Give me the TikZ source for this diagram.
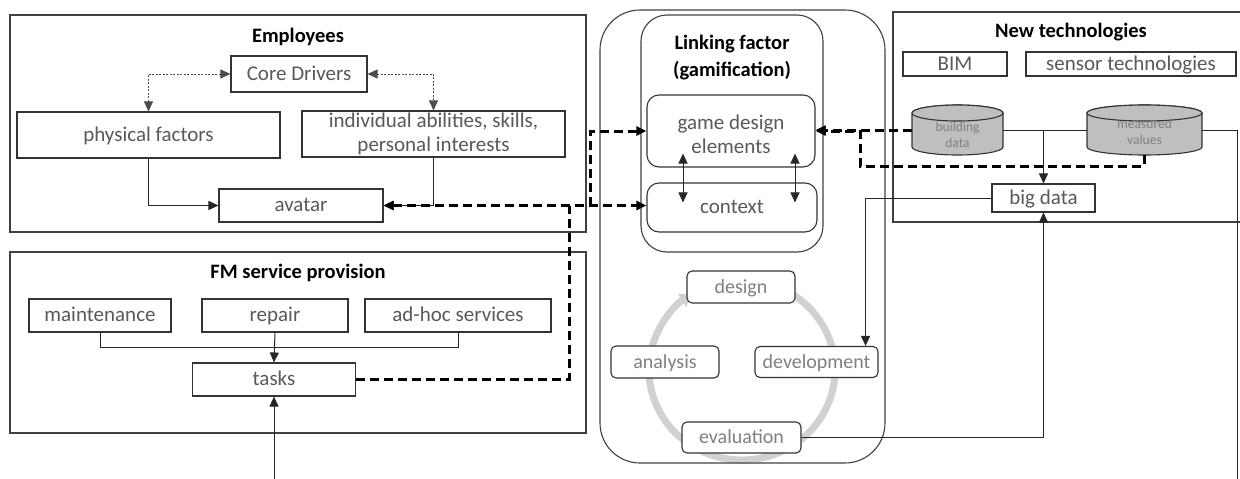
\documentclass[tikz,border=0pt]{standalone}
\usepackage{fontspec}
\setmainfont{Carlito}
\usetikzlibrary{arrows.meta,calc}

\begin{document}
\begin{tikzpicture}[x=1pt,y=-1pt,>={Triangle[length=10pt,width=9pt]},
    every node/.style={font=\fontsize{21}{24}\selectfont},
    box/.style={draw=black!80,line width=1.1pt,fill=white,text=black!65,align=center,inner sep=0pt},
    oneline/.style={text height=14pt,text depth=2pt},
    phase/.style={box,oneline,rounded corners=5pt,text=black!50,font=\fontsize{20}{24}\selectfont},
    cont/.style={draw=black!75,line width=1.1pt},
    title/.style={font=\fontsize{20.5}{27}\selectfont\bfseries,align=center},
    db/.style={inner sep=0pt,text=black!50,font=\fontsize{13.5}{16}\selectfont},
    dbshape/.style={fill=black!25,draw=black!80,line width=1.1pt},
    link/.style={line width=1pt,black!85},
    hint/.style={line width=0.8pt,black!70,dash pattern=on 2pt off 1.5pt},
    game/.style={line width=3pt,dash pattern=on 9pt off 5pt,black}]
\useasboundingbox (0,0) rectangle (1240,479);

% gamification cycle
\draw[line width=7pt,black!18,-{Triangle[length=11pt,width=15pt]}] (742,370) ++(-70:93 and 90) arc[start angle=-70,end angle=237,x radius=93,y radius=90];

% frames
\draw[cont] (10,15) rectangle (586,232);
\draw[cont] (10,252) rectangle (586,433);
\draw[cont,rounded corners=40pt] (600,10) rectangle (885,463);
\draw[cont,rounded corners=26pt] (641,15) rectangle (823,252);
\draw[cont] (1240,12) -- (893,12) -- (893,222) -- (1240,222);

\node[title] (emptitle) at (298,37) {Employees};
\node[title] (fmtitle) at (298,273) {FM service provision};
\node[title] (linktitle) at (732,58) {Linking factor\\(gamification)};
\node[title] (techtitle) at (1071,32) {New technologies};

% employees
\node[box,oneline,minimum width=136,minimum height=36] (core) at (299,74) {Core Drivers};
\node[box,oneline,minimum width=263,minimum height=46] (phys) at (148.5,135) {physical factors};
\node[box,minimum width=263,minimum height=46] (indiv) at (433.5,134) {individual abilities, skills,\\personal interests};
\node[box,oneline,minimum width=164,minimum height=33] (avatar) at (301,205.5) {avatar};

% FM service provision
\node[box,oneline,minimum width=142,minimum height=33] (maint) at (100,315.5) {maintenance};
\node[box,oneline,minimum width=146,minimum height=33] (repair) at (275,315.5) {repair};
\node[box,oneline,minimum width=186,minimum height=33] (adhoc) at (458,315.5) {ad-hoc services};
\node[box,oneline,minimum width=163,minimum height=33] (tasks) at (274,379.5) {tasks};

% linking factor
\node[box,rounded corners=12pt,minimum width=168,minimum height=72,text height=45pt] (gde) at (731,131) {game design\\elements};
\node[box,oneline,rounded corners=12pt,minimum width=170,minimum height=49] (context) at (732,207.5) {context};
\node[phase,minimum width=108,minimum height=32] (design) at (741,287) {design};
\node[phase,minimum width=108,minimum height=32] (analysis) at (665,362) {analysis};
\node[phase,minimum width=123,minimum height=31] (devel) at (816.5,362) {development};
\node[phase,minimum width=119,minimum height=31] (evalu) at (741.5,437.5) {evaluation};

% new technologies
\node[box,oneline,minimum width=104,minimum height=24] (bim) at (955,64) {BIM};
\node[box,oneline,minimum width=210,minimum height=24] (sensor) at (1131,64) {sensor technologies};
\filldraw[dbshape] (912,113) -- (912,147) arc[start angle=180,end angle=0,x radius=45.5,y radius=8] -- (1003,113) arc[start angle=0,end angle=-180,x radius=45.5,y radius=8] -- cycle;
\draw[dbshape] (957.5,113) ellipse[x radius=45.5,y radius=8];
\filldraw[dbshape] (1087,113) -- (1087,147) arc[start angle=180,end angle=0,x radius=57.5,y radius=8] -- (1202,113) arc[start angle=0,end angle=-180,x radius=57.5,y radius=8] -- cycle;
\draw[dbshape] (1144.5,113) ellipse[x radius=57.5,y radius=8];
\node[db,minimum width=91,minimum height=50] (bdata) at (957.5,130) {\raisebox{-6pt}[\height][\depth]{\begin{tabular}{@{}c@{}}building\\data\end{tabular}}};
\node[db,minimum width=115,minimum height=50] (mvals) at (1144.5,130) {\raisebox{-3pt}[\height][\depth]{\begin{tabular}{@{}c@{}}measured\\values\end{tabular}}};
\node[box,oneline,minimum width=103,minimum height=28] (bigdata) at (1043.5,198) {big data};

\coordinate (fmin) at (274,479);
\coordinate (techout) at (1237,479);
\coordinate (jup) at (590,205.5);
\coordinate (jdown) at (569,205.5);
\coordinate (jtech) at (860,166);

\draw[hint,<->] (core.west) -| (phys.north);
\draw[hint,<->] (core.east) -| (indiv.north);
\draw[link,->] (phys.south) |- (avatar.west);
\draw[link,->] (indiv.south) |- (avatar.east);
\draw[link] (maint.south) -- ++(0,15) -| (adhoc.south);
\draw[link,->] (repair.south) -- (tasks.north);
\draw[link,->] (fmin) -- (tasks.south);
\draw[link,<->] ($(gde.south)+(-48,-14)$) -- ($(context.north)+(-49,20)$);
\draw[link,<->] ($(gde.south)+(64,-14)$) -- ($(context.north)+(63,20)$);
\draw[link,->] (bdata.east) -| (bigdata.north);
\draw[link] (mvals.west) -| (bigdata.north);
\draw[link] (mvals.east) -| (techout);
\draw[link,->] (bigdata.west) -| ([xshift=-13pt]devel.north east);
\draw[link,->] (evalu.east) -| (bigdata.south);

\draw[game,<->] (avatar.east) -- (avatar.east -| context.west);
\draw[game,->] (jup) |- (gde.west);
\draw[game] (tasks.east) -| (jdown);
\draw[game,->] (bdata.west) -- (bdata.west -| gde.east);
\draw[game,->] (mvals.south) |- (jtech) |- (gde.east);
\end{tikzpicture}
\end{document}
